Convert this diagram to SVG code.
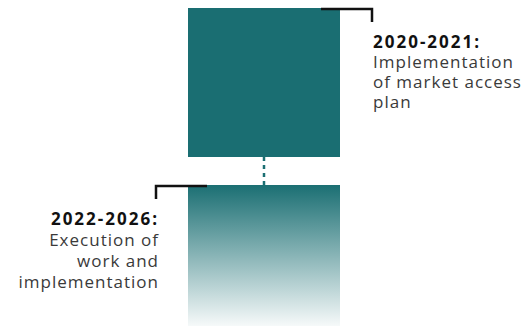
<svg xmlns="http://www.w3.org/2000/svg" width="526" height="326" viewBox="0 0 526 326">
<defs>
<linearGradient id="fade" x1="0" y1="0" x2="0" y2="1">
<stop offset="0" stop-color="#1b6f73"/>
<stop offset="1" stop-color="#1b6f73" stop-opacity="0.04"/>
</linearGradient>
<style>
.t{font-family:"Open Sans","Liberation Sans",sans-serif;font-size:17px;fill:#3a3a3a;letter-spacing:1px}
.b{font-weight:bold;fill:#111;letter-spacing:2px}
.br{fill:none;stroke:#111;stroke-width:2.5}
</style>
</defs>
<rect width="526" height="326" fill="#fff"/>
<g id="connectors">
<line x1="264" y1="157" x2="264" y2="185" stroke="#1b6f73" stroke-width="2.5" stroke-dasharray="4,4"/>
</g>
<g id="phase1">
<rect x="188" y="8" width="152" height="149" fill="#1a6e72"/>
<polyline class="br" points="321,9 372,9 372,22"/>
<text class="t" x="373" y="48"><tspan class="b">2020-2021:</tspan><tspan x="373" y="68">Implementation</tspan><tspan x="373" y="88">of market access</tspan><tspan x="373" y="108">plan</tspan></text>
</g>
<g id="phase2">
<rect x="188" y="185" width="152" height="141" fill="url(#fade)"/>
<polyline class="br" points="207,186 156,186 156,199"/>
<text class="t" x="159" y="225" text-anchor="end"><tspan class="b">2022-2026:</tspan><tspan x="159" y="246">Execution of</tspan><tspan x="159" y="267">work and</tspan><tspan x="159" y="288">implementation</tspan></text>
</g>
</svg>
